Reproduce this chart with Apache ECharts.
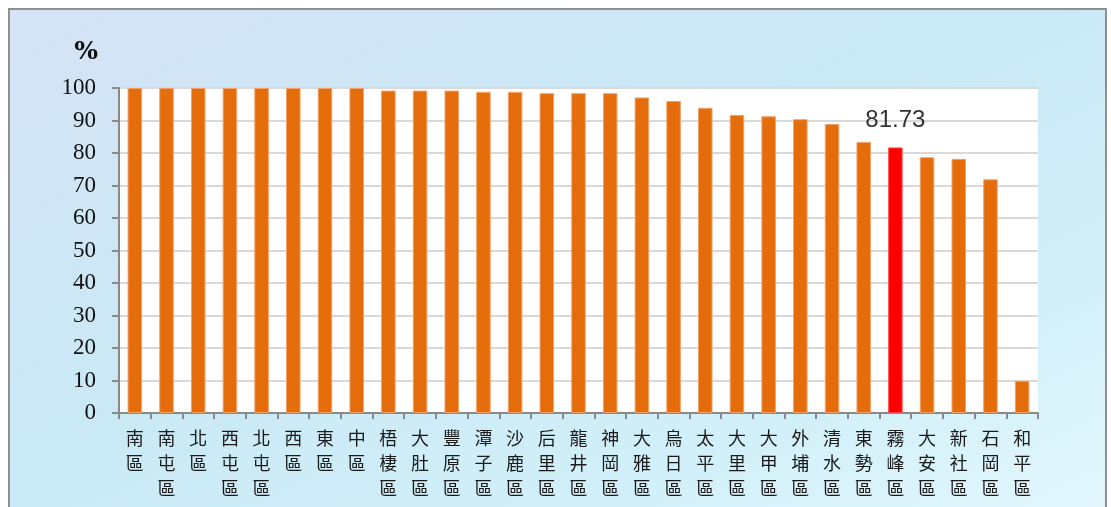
<!DOCTYPE html>
<html>
<head>
<meta charset="utf-8">
<script src="https://cdn.jsdelivr.net/npm/echarts@6/dist/echarts.min.js"></script>
<style>
html,body{margin:0;padding:0;width:1111px;height:507px;overflow:hidden;background:#fff;}
#frame{position:absolute;left:8px;top:8px;width:1095px;height:520px;border:2px solid #8f8f8f;
background:linear-gradient(to bottom right,#d5e3f5 0%,#c9e9f5 45%,#d2f0f9 75%,#e4f7fd 100%);}
#chart{position:absolute;left:0;top:0;width:1111px;height:507px;}
</style>
</head>
<body>
<div id="frame"></div>
<div id="chart"></div>
<script>
const categories = ['南區','南屯區','北區','西屯區','北屯區','西區','東區','中區','梧棲區','大肚區','豐原區','潭子區','沙鹿區','后里區','龍井區','神岡區','大雅區','烏日區','太平區','大里區','大甲區','外埔區','清水區','東勢區','霧峰區','大安區','新社區','石岡區','和平區'];
const values = [100,100,100,100,100,100,100,100,99.2,99.2,99.2,98.8,98.8,98.4,98.4,98.4,97.1,96.0,93.9,91.7,91.3,90.4,88.9,83.4,81.73,78.7,78.2,71.9,9.9];
const highlight = '霧峰區';
const yTicks = {min:0, max:100, interval:10};

const chart = echarts.init(document.getElementById('chart'), null, {renderer:'canvas'});
chart.setOption({
  backgroundColor:'transparent',
  animation:false,
  grid:{left:119, right:73, top:88, bottom:94, show:true, backgroundColor:'#ffffff', borderWidth:0},
  xAxis:{
    type:'category', data:categories,
    axisLine:{lineStyle:{color:'#8a8a8a', width:2}},
    axisTick:{show:true, alignWithLabel:false, length:6, lineStyle:{color:'#8a8a8a', width:2}},
    axisLabel:{interval:0, margin:13, color:'#1a1a1a', fontSize:18, lineHeight:25,
      fontFamily:'"Noto Sans CJK TC"', verticalAlign:'top',
      formatter:v=>v.split('').join('\n')},
    splitLine:{show:false}
  },
  yAxis:{
    type:'value', min:yTicks.min, max:yTicks.max, interval:yTicks.interval,
    name:'%', nameLocation:'end', nameGap:36,
    nameTextStyle:{fontFamily:'"DejaVu Serif"', fontWeight:'bold', fontSize:25, color:'#111', align:'right', verticalAlign:'middle', padding:[0,21,0,0]},
    axisLine:{show:true, lineStyle:{color:'#8a8a8a', width:2}},
    axisTick:{show:true, length:7, lineStyle:{color:'#8a8a8a', width:2}},
    axisLabel:{margin:23, fontFamily:'"Liberation Serif"', fontSize:23, color:'#111'},
    splitLine:{show:true, lineStyle:{color:'#d9d9d9', width:2}}
  },
  series:[{
    type:'bar', barWidth:14.5,
    data:categories.map((c,i)=>{
      const isH = c===highlight;
      return {
        value:values[i],
        itemStyle:{color:isH?'#ff0000':'#e46c0a', borderColor:isH?'#ff4d4d':'#f3a066', borderWidth:1},
        label:{show:isH, position:'top', distance:15, formatter:'{c}', fontFamily:'"Liberation Sans"', fontSize:24, color:'#333'}
      };
    })
  }]
});
</script>
</body>
</html>
